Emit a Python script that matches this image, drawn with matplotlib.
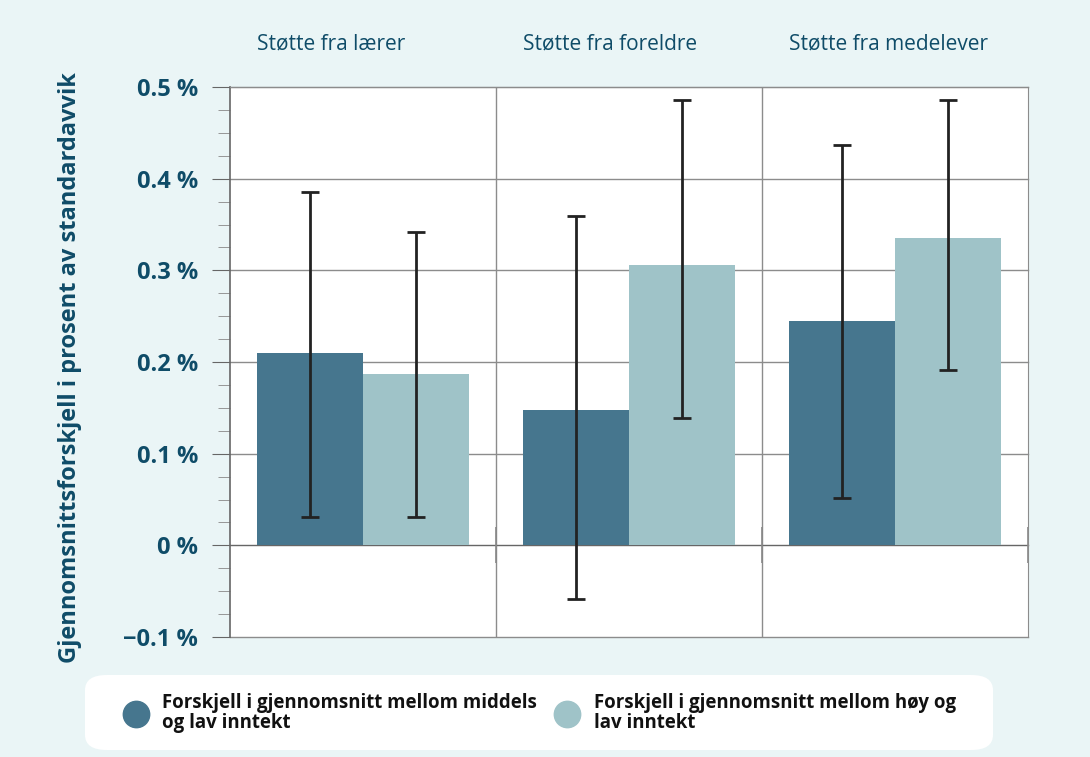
import numpy as np
import matplotlib.pyplot as plt
from matplotlib.patches import FancyBboxPatch
from matplotlib.lines import Line2D

plt.rcParams['font.family'] = ['Open Sans', 'DejaVu Sans']

# data
kategorier = ['Støtte fra lærer', 'Støtte fra foreldre', 'Støtte fra medelever']
middels = [0.210, 0.148, 0.245]
middels_lav = [0.031, -0.058, 0.052]
middels_hoy = [0.385, 0.359, 0.437]
hoy = [0.187, 0.306, 0.335]
hoy_lav = [0.031, 0.139, 0.191]
hoy_hoy = [0.342, 0.486, 0.486]
serie_navn = ['Forskjell i gjennomsnitt mellom middels\nog lav inntekt',
              'Forskjell i gjennomsnitt mellom høy og\nlav inntekt']

bg = '#eaf5f6'
mork = '#46768e'
lys = '#9fc3c8'
tekst = '#0f4c68'

fig = plt.figure(figsize=(10.9, 7.57), dpi=100, facecolor=bg)
ax = fig.add_axes([230 / 1090, 1 - 637 / 757, 798 / 1090, 550 / 757])
ax.set_facecolor('white')

x = np.arange(len(kategorier))
w = 0.4
m = np.array(middels)
h = np.array(hoy)
ax.bar(x - w / 2, m, w, color=mork, zorder=2)
ax.bar(x + w / 2, h, w, color=lys, zorder=2)
ax.errorbar(x - w / 2, m, yerr=[m - np.array(middels_lav), np.array(middels_hoy) - m],
            fmt='none', ecolor='#222222', elinewidth=2, capsize=6.5, capthick=2, zorder=3)
ax.errorbar(x + w / 2, h, yerr=[h - np.array(hoy_lav), np.array(hoy_hoy) - h],
            fmt='none', ecolor='#222222', elinewidth=2, capsize=6.5, capthick=2, zorder=3)

ax.set_xlim(-0.5, 2.5)
ax.set_ylim(-0.1, 0.5)

# rutenett
yt = np.arange(-0.1, 0.51, 0.1)
for v in yt:
    ax.axhline(v, color='#8c8c8c', lw=1, zorder=1, clip_on=False)
for v in [0.5, 1.5]:
    ax.axvline(v, color='#8c8c8c', lw=1, zorder=1)

for s in ['top', 'right']:
    ax.spines[s].set_color('#8c8c8c')
ax.spines['left'].set_color('#666666')
ax.spines['left'].set_linewidth(1.2)
ax.spines['bottom'].set_position(('data', 0))
ax.spines['bottom'].set_color('#666666')
ax.spines['bottom'].set_zorder(1)

ax.set_yticks(yt)
ax.set_yticklabels(['\u22120.1 %', '0 %', '0.1 %', '0.2 %', '0.3 %', '0.4 %', '0.5 %'],
                   fontsize=17, fontweight='bold', color=tekst)
ax.set_yticks(np.arange(-0.1, 0.5, 0.025), minor=True)
ax.tick_params(axis='y', which='major', length=13, color='#666666', pad=10)
ax.tick_params(axis='y', which='minor', length=9, color='#888888')
ax.set_xticks([0.5, 1.5, 2.5])
ax.set_xticklabels([])
ax.tick_params(axis='x', direction='inout', length=26, width=1.2, color='#888888')

for i, k in enumerate(kategorier):
    ax.text(i - 0.5 + 0.1, 1.078, k, transform=ax.get_xaxis_transform(), ha='left', va='center',
            fontsize=15, color=tekst)

fig.text(70 / 1090, 1 - 368 / 757, 'Gjennomsnittsforskjell i prosent av standardavvik',
         rotation=90, ha='center', va='center', fontsize=17, fontweight='bold', color=tekst)

# legend-boks
boks = FancyBboxPatch((85 / 1090, 1 - 750 / 757), 908 / 1090, 75 / 757,
                      boxstyle='round,pad=0,rounding_size=0.02', transform=fig.transFigure,
                      facecolor='white', edgecolor='none')
fig.patches.append(boks)
for xm, xt, farge, navn in [(136, 162, mork, serie_navn[0]), (567, 594, lys, serie_navn[1])]:
    fig.add_artist(Line2D([xm / 1090], [1 - 714 / 757], marker='o', markersize=19,
                          color=farge, transform=fig.transFigure))
    fig.text(xt / 1090, 1 - 713 / 757, navn, ha='left', va='center', fontsize=13.4,
             fontweight='bold', color='#111111', linespacing=1.05)

fig.savefig('out.png', dpi=100, facecolor=bg)
